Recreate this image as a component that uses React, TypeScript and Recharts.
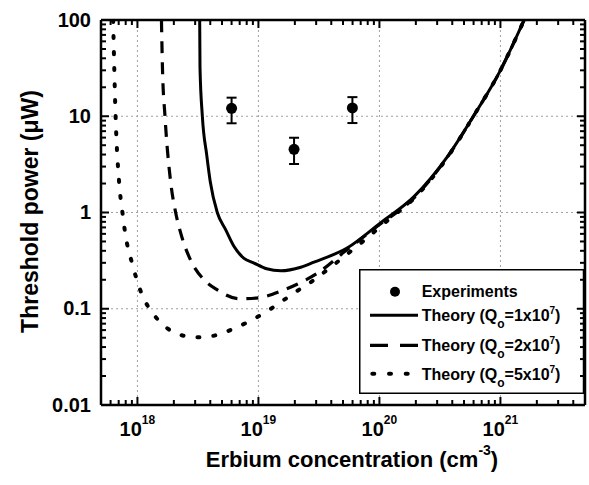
import React from 'react';
import { ComposedChart, Line, ErrorBar, XAxis, YAxis, CartesianGrid } from 'recharts';

const FONT = '"Liberation Sans", Arial, Helvetica, sans-serif';

// ---- Experiments ----
const expConcentration = [6.0e18, 1.97e19, 5.98e19];
const expPower = [12.1, 4.53, 12.2];
const expErrLow = [3.65, 1.34, 3.7];
const expErrHigh = [3.5, 1.45, 3.6];

// ---- Theory Qo = 1x10^7 (solid) ----
const q1Concentration = [3.27e18, 3.29e18, 3.44e18, 3.74e18, 4.0e18, 4.57e18, 5.37e18, 6.31e18, 7.6e18, 9.12e18, 1.17e19, 1.53e19, 2.24e19, 2.88e19, 5.45e19, 1.02e20, 1.93e20, 3.65e20, 5.98e20, 1.0e21, 1.57e21];
const q1Power = [100, 32, 10, 3.95, 2.09, 1.0, 0.66, 0.44, 0.334, 0.3, 0.26, 0.248, 0.27, 0.305, 0.43, 0.78, 1.46, 3.8, 10, 30, 100];

// ---- Theory Qo = 2x10^7 (dashed) ----
const q2Concentration = [1.58e18, 1.61e18, 1.69e18, 1.88e18, 2.07e18, 2.28e18, 2.75e18, 3.55e18, 4.57e18, 7.0e18, 1.0e19, 1.58e19, 2.09e19, 3.09e19, 5.13e19, 9.04e19, 1.93e20, 3.65e20, 5.98e20, 1.0e21, 1.57e21];
const q2Power = [100, 32, 10, 2.1, 1.0, 0.61, 0.32, 0.2, 0.157, 0.127, 0.13, 0.155, 0.18, 0.235, 0.39, 0.68, 1.42, 3.78, 10, 30, 100];

// ---- Theory Qo = 5x10^7 (dotted) ----
const q5Concentration = [6.3e17, 6.6e17, 7.05e17, 7.52e17, 7.94e17, 9.12e17, 1.0e18, 1.12e18, 1.33e18, 1.77e18, 2.4e18, 3.27e18, 4.44e18, 6.03e18, 8.2e18, 1.13e19, 1.51e19, 2.04e19, 2.79e19, 3.8e19, 7.0e19, 1.2e20, 1.93e20, 3.65e20, 5.98e20, 1.0e21, 1.57e21];
const q5Power = [100, 10, 2.1, 1.0, 0.6, 0.285, 0.19, 0.13, 0.091, 0.0625, 0.0525, 0.0505, 0.053, 0.061, 0.073, 0.091, 0.116, 0.15, 0.194, 0.26, 0.48, 0.85, 1.4, 3.75, 10, 30, 100];

// ---- Axes ----
const xDomain = [5e17, 5e21];
const yDomain = [0.01, 100];
const xMajorTicks = [1e18, 1e19, 1e20, 1e21];
const xMajorExponents = ['18', '19', '20', '21'];
const xMinorTicks = [
  6e17, 7e17, 8e17, 9e17,
  2e18, 3e18, 4e18, 5e18, 6e18, 7e18, 8e18, 9e18,
  2e19, 3e19, 4e19, 5e19, 6e19, 7e19, 8e19, 9e19,
  2e20, 3e20, 4e20, 5e20, 6e20, 7e20, 8e20, 9e20,
  2e21, 3e21, 4e21,
];
const yMajorTicks = [0.01, 0.1, 1, 10, 100];
const yMajorLabels = ['0.01', '0.1', '1', '10', '100'];
const yMinorTicks = [
  0.02, 0.03, 0.04, 0.05, 0.06, 0.07, 0.08, 0.09,
  0.2, 0.3, 0.4, 0.5, 0.6, 0.7, 0.8, 0.9,
  2, 3, 4, 5, 6, 7, 8, 9,
  20, 30, 40, 50, 60, 70, 80, 90,
];
const xGridValues = [1e18, 1e19, 1e20, 1e21];
const yGridValues = [0.1, 1, 10];

const xAllTicks = [...xMajorTicks, ...xMinorTicks].sort((a, b) => a - b);
const yAllTicks = [...yMajorTicks, ...yMinorTicks].sort((a, b) => a - b);

// ---- Titles & legend ----
const xTitle = 'Erbium concentration (cm';
const xTitleExponent = '-3';
const yTitle = 'Threshold power (μW)';
const legendExperimentLabel = 'Experiments';
const legendTheoryMantissas = ['1', '2', '5'];

const zip = (xs: number[], ys: number[]) => xs.map((x, i) => ({ x, y: ys[i] }));
const expData = expConcentration.map((x, i) => ({ x, y: expPower[i], err: [expErrLow[i], expErrHigh[i]] }));
const q1Data = zip(q1Concentration, q1Power);
const q2Data = zip(q2Concentration, q2Power);
const q5Data = zip(q5Concentration, q5Power);

const majorIndex = (v: number, majors: number[]) => majors.findIndex((m) => Math.abs(v / m - 1) < 1e-6);

const MAJOR_LEN = 8;
const MINOR_LEN = 5;
const TICK_W = 2;

function BottomTick(props: any) {
  const { x, y, payload } = props;
  const idx = majorIndex(payload.value, xMajorTicks);
  const major = idx >= 0;
  return (
    <g>
      <line x1={x} x2={x} y1={y} y2={y - (major ? MAJOR_LEN : MINOR_LEN)} stroke="#000" strokeWidth={TICK_W} />
      {major && (
        <text x={x} y={y + 31} textAnchor="middle" fontFamily={FONT} fontWeight="bold" fontSize={20} fill="#000">
          10
          <tspan fontSize={12} dy={-12.5}>{xMajorExponents[idx]}</tspan>
        </text>
      )}
    </g>
  );
}

function TopTick(props: any) {
  const { x, y, payload } = props;
  const major = majorIndex(payload.value, xMajorTicks) >= 0;
  return <line x1={x} x2={x} y1={y} y2={y + (major ? MAJOR_LEN : MINOR_LEN)} stroke="#000" strokeWidth={TICK_W} />;
}

function LeftTick(props: any) {
  const { x, y, payload } = props;
  const idx = majorIndex(payload.value, yMajorTicks);
  const major = idx >= 0;
  return (
    <g>
      <line x1={x} x2={x + (major ? MAJOR_LEN : MINOR_LEN)} y1={y} y2={y} stroke="#000" strokeWidth={TICK_W} />
      {major && (
        <text x={x - 10} y={y + 6.5} textAnchor="end" fontFamily={FONT} fontWeight="bold" fontSize={20} fill="#000">
          {yMajorLabels[idx]}
        </text>
      )}
    </g>
  );
}

function RightTick(props: any) {
  const { x, y, payload } = props;
  const major = majorIndex(payload.value, yMajorTicks) >= 0;
  return <line x1={x} x2={x - (major ? MAJOR_LEN : MINOR_LEN)} y1={y} y2={y} stroke="#000" strokeWidth={TICK_W} />;
}

const LEG_X = 359;
const LEG_Y = 269;
const LEG_W = 226;
const LEG_H = 125;
const legendRows = [22.7, 46.3, 76.3, 104.8];

function Overlay() {
  const textX = 62.7;
  const theoryStyles = [
    { dash: undefined as string | undefined, cap: 'butt' as const, w: 3, x1: 11, x2: 59 },
    { dash: '18 12', cap: 'butt' as const, w: 3.2, x1: 11, x2: 59 },
    { dash: '2 14.7', cap: 'round' as const, w: 4, x1: 13.3, x2: 52 },
  ];
  const ycx = 38;
  const ycy = 211.5;
  return (
    <svg width={589} height={485} style={{ position: 'absolute', left: 0, top: 0, pointerEvents: 'none' }}>
      <text x={352} y={466.5} textAnchor="middle" fontFamily={FONT} fontWeight="bold" fontSize={22} fill="#000">
        {xTitle}
        <tspan fontSize={14} dy={-12}>{xTitleExponent}</tspan>
        <tspan dy={12}>)</tspan>
      </text>
      <text x={ycx} y={ycy} transform={`rotate(-90, ${ycx}, ${ycy})`} textAnchor="middle" fontFamily={FONT} fontWeight="bold" fontSize={23} fill="#000">
        {yTitle}
      </text>
      <g transform={`translate(${LEG_X}, ${LEG_Y})`}>
        <rect x={0.75} y={0.75} width={LEG_W - 10} height={LEG_H - 1.5} fill="#fff" stroke="none" />
        <line x1={0.75} x2={LEG_W} y1={0.75} y2={0.75} stroke="#000" strokeWidth={1.5} />
        <line x1={0.75} x2={LEG_W} y1={LEG_H - 0.75} y2={LEG_H - 0.75} stroke="#000" strokeWidth={1.5} />
        <line x1={0.75} x2={0.75} y1={0} y2={LEG_H} stroke="#000" strokeWidth={1.5} />
        <line x1={LEG_W - 1} x2={LEG_W - 1} y1={0} y2={LEG_H} stroke="#000" strokeWidth={2.5} />
        <circle cx={36} cy={legendRows[0]} r={5} fill="#000" />
        <text x={textX} y={legendRows[0] + 5.7} fontFamily={FONT} fontWeight="bold" fontSize={16} fill="#000">
          {legendExperimentLabel}
        </text>
        {legendTheoryMantissas.map((m, i) => {
          const cy = legendRows[i + 1];
          const s = theoryStyles[i];
          return (
            <g key={m}>
              <line x1={s.x1} x2={s.x2} y1={cy} y2={cy} stroke="#000" strokeWidth={s.w} strokeDasharray={s.dash} strokeLinecap={s.cap} />
              <text x={textX} y={cy + 5.7} fontFamily={FONT} fontWeight="bold" fontSize={16} fill="#000">
                Theory (Q
                <tspan fontSize={12} dy={7}>o</tspan>
                <tspan dy={-7}>={m}x10</tspan>
                <tspan fontSize={10} dy={-7}>7</tspan>
                <tspan dy={7}>)</tspan>
              </text>
            </g>
          );
        })}
      </g>
    </svg>
  );
}

export default function App() {
  return (
    <div style={{ position: 'absolute', left: 0, top: 0, width: 589, height: 485 }}>
      <ComposedChart width={589} height={485} margin={{ top: 10, right: -6, bottom: 0, left: 0 }}>
        <CartesianGrid horizontalValues={yGridValues} verticalValues={xGridValues} stroke="#a0a0a0" strokeWidth={1} strokeDasharray="2 3" />
        <XAxis dataKey="x" type="number" scale="log" domain={xDomain} allowDataOverflow ticks={xAllTicks} interval={0} tickLine={false} tickSize={0} tickMargin={0} tick={<BottomTick />} axisLine={{ stroke: '#000', strokeWidth: 2.5 }} height={80} />
        <XAxis xAxisId="top" orientation="top" dataKey="x" type="number" scale="log" domain={xDomain} allowDataOverflow ticks={xAllTicks} interval={0} tickLine={false} tickSize={0} tickMargin={0} tick={<TopTick />} axisLine={{ stroke: '#000', strokeWidth: 2.5 }} height={10} />
        <YAxis dataKey="y" type="number" scale="log" domain={yDomain} allowDataOverflow ticks={yAllTicks} interval={0} tickLine={false} tickSize={0} tickMargin={0} tick={<LeftTick />} axisLine={{ stroke: '#000', strokeWidth: 2.5 }} width={101} />
        <YAxis yAxisId="right" orientation="right" dataKey="y" type="number" scale="log" domain={yDomain} allowDataOverflow ticks={yAllTicks} interval={0} tickLine={false} tickSize={0} tickMargin={0} tick={<RightTick />} axisLine={{ stroke: '#000', strokeWidth: 2.5 }} width={10} />
        <Line data={q5Data} dataKey="y" type="monotone" stroke="#000" strokeWidth={4} strokeDasharray="2 14" strokeLinecap="round" dot={false} isAnimationActive={false} />
        <Line data={q2Data} dataKey="y" type="monotone" stroke="#000" strokeWidth={3.2} strokeDasharray="12 9" dot={false} isAnimationActive={false} />
        <Line data={q1Data} dataKey="y" type="monotone" stroke="#000" strokeWidth={3} dot={false} isAnimationActive={false} />
        <Line xAxisId="top" yAxisId="right" data={expData} dataKey="y" stroke="none" dot={false} activeDot={false} isAnimationActive={false} />
        <Line data={expData} dataKey="y" stroke="none" dot={{ r: 5.5, fill: '#000', stroke: 'none' }} activeDot={false} isAnimationActive={false}>
          <ErrorBar dataKey="err" direction="y" width={5} stroke="#000" strokeWidth={2} isAnimationActive={false} />
        </Line>
      </ComposedChart>
      <Overlay />
    </div>
  );
}
